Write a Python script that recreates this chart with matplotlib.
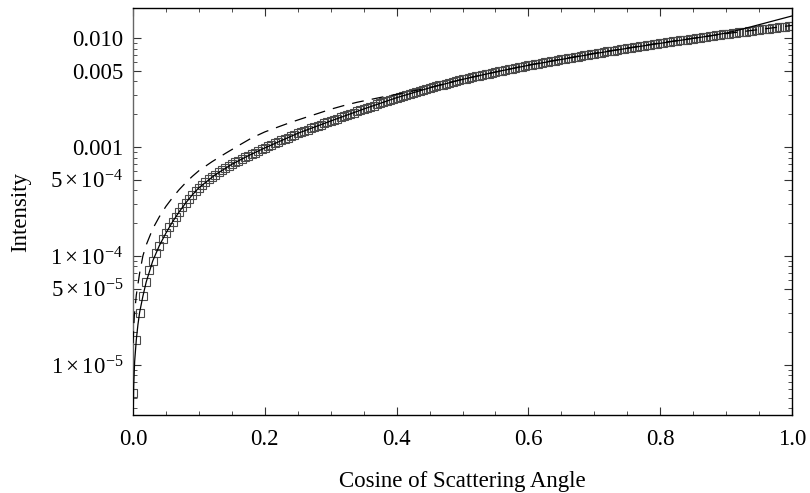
import numpy as np
import matplotlib
matplotlib.use('Agg')
import matplotlib.pyplot as plt
from matplotlib.ticker import FixedLocator, FixedFormatter, MultipleLocator, LogLocator, NullFormatter

plt.rcParams['font.family'] = ['Liberation Serif', 'DejaVu Serif']
plt.rcParams['mathtext.fontset'] = 'custom'
plt.rcParams['mathtext.rm'] = 'Liberation Serif'
plt.rcParams['mathtext.it'] = 'Liberation Serif:italic'

# simulated points, one every 0.005 in cosine (log10 of intensity)
mc_cos = np.linspace(0.0, 1.0, 201)
mc_log10 = [
    -5.26, -4.77, -4.52, -4.37, -4.24, -4.13, -4.045, -3.97, -3.905, -3.845,
    -3.79, -3.737, -3.687, -3.64, -3.596, -3.554, -3.514, -3.476, -3.44, -3.406,
    -3.374, -3.347, -3.322, -3.298, -3.276, -3.254, -3.234, -3.214, -3.195, -3.177,
    -3.159, -3.142, -3.126, -3.110, -3.095, -3.080, -3.065, -3.051, -3.037, -3.023,
    -3.009, -2.995, -2.981, -2.967, -2.954, -2.940, -2.927, -2.914, -2.901, -2.888,
    -2.875, -2.863, -2.852, -2.840, -2.829, -2.818, -2.806, -2.795, -2.784, -2.773,
    -2.762, -2.751, -2.740, -2.729, -2.718, -2.707, -2.696, -2.685, -2.674, -2.663,
    -2.652, -2.641, -2.631, -2.620, -2.610, -2.600, -2.589, -2.579, -2.569, -2.558,
    -2.548, -2.539, -2.530, -2.521, -2.512, -2.503, -2.494, -2.485, -2.476, -2.467,
    -2.458, -2.450, -2.442, -2.434, -2.427, -2.419, -2.411, -2.403, -2.395, -2.388,
    -2.380, -2.373, -2.366, -2.360, -2.353, -2.346, -2.339, -2.332, -2.326, -2.319,
    -2.312, -2.306, -2.300, -2.294, -2.288, -2.282, -2.275, -2.269, -2.263, -2.257,
    -2.251, -2.246, -2.240, -2.235, -2.229, -2.224, -2.219, -2.213, -2.208, -2.202,
    -2.197, -2.192, -2.186, -2.181, -2.176, -2.170, -2.165, -2.160, -2.155, -2.149,
    -2.144, -2.139, -2.134, -2.129, -2.124, -2.119, -2.115, -2.110, -2.105, -2.100,
    -2.095, -2.090, -2.086, -2.081, -2.077, -2.072, -2.067, -2.063, -2.058, -2.054,
    -2.049, -2.045, -2.040, -2.036, -2.031, -2.027, -2.023, -2.018, -2.014, -2.009,
    -2.005, -2.001, -1.997, -1.993, -1.989, -1.985, -1.980, -1.976, -1.972, -1.968,
    -1.964, -1.960, -1.956, -1.952, -1.948, -1.945, -1.941, -1.937, -1.933, -1.929,
    -1.925, -1.921, -1.918, -1.914, -1.910, -1.907, -1.903, -1.899, -1.895, -1.892,
    -1.888,
]

# solid curve
solid_cos = [0.0002, 0.0005, 0.001, 0.0025, 0.005, 0.0075, 0.01, 0.015, 0.02, 0.03,
             0.04, 0.05, 0.06, 0.07, 0.08, 0.09, 0.1, 0.125, 0.15, 0.175,
             0.2, 0.25, 0.3, 0.35, 0.4, 0.45, 0.5, 0.55, 0.6, 0.65,
             0.7, 0.75, 0.8, 0.85, 0.875, 0.9, 0.925, 0.95, 0.975, 1.0]
solid_log10 = [-5.8, -5.42, -5.2, -4.97, -4.77, -4.63, -4.52, -4.37, -4.24, -4.045,
               -3.905, -3.79, -3.687, -3.596, -3.514, -3.44, -3.374, -3.254, -3.159, -3.08,
               -3.009, -2.875, -2.762, -2.652, -2.548, -2.458, -2.38, -2.312, -2.251, -2.197,
               -2.144, -2.095, -2.049, -2.004, -1.981, -1.955, -1.918, -1.878, -1.838, -1.798]

# dashed curve
dash_cos = [0.0, 0.002, 0.005, 0.01, 0.015, 0.02, 0.03, 0.04, 0.05, 0.06,
            0.07, 0.08, 0.09, 0.1, 0.12, 0.14, 0.16, 0.18, 0.2, 0.22,
            0.24, 0.26, 0.28, 0.3, 0.32, 0.34, 0.36, 0.38, 0.4, 0.45,
            0.5, 0.6, 0.7, 0.8, 0.9, 1.0]
dash_log10 = [-4.8, -4.55, -4.36, -4.16, -4.0, -3.9, -3.75, -3.64, -3.545, -3.465,
              -3.392, -3.328, -3.27, -3.218, -3.135, -3.06, -2.988, -2.918, -2.862, -2.817,
              -2.773, -2.733, -2.694, -2.654, -2.62, -2.59, -2.565, -2.54, -2.517, -2.455,
              -2.378, -2.248, -2.14, -2.045, -1.96, -1.885]

ytick_vals = [1e-5, 5e-5, 1e-4, 5e-4, 1e-3, 5e-3, 1e-2]
ytick_labels = [r'$1\times10^{-5}$', r'$5\times10^{-5}$', r'$1\times10^{-4}$', r'$5\times10^{-4}$',
                '0.001', '0.005', '0.010']
xtick_vals = [0.0, 0.2, 0.4, 0.6, 0.8, 1.0]
xtick_labels = ['0.0', '0.2', '0.4', '0.6', '0.8', '1.0']

fig = plt.figure(figsize=(8.1, 4.93), dpi=100)
ax = fig.add_axes([133 / 810, 78 / 493, 659 / 810, 407 / 493])

ax.plot(mc_cos, 10 ** np.array(mc_log10), linestyle='none', marker='s', markersize=5.3,
        fillstyle='none', markeredgecolor='#4a4a4a', markeredgewidth=0.8, zorder=2)
ax.plot(solid_cos, 10 ** np.array(solid_log10), color='black', linewidth=0.9, zorder=3)
ax.plot(dash_cos, 10 ** np.array(dash_log10), color='black', linewidth=0.9,
        linestyle=(0, (9.5, 6.5)), zorder=3)

ax.set_yscale('log')
ax.set_xlim(0, 1)
ax.set_ylim(3.47e-6, 0.01884)

ax.yaxis.set_major_locator(FixedLocator(ytick_vals))
ax.yaxis.set_major_formatter(FixedFormatter(ytick_labels))
ax.yaxis.set_minor_locator(LogLocator(base=10, subs=np.arange(2, 10)))
ax.yaxis.set_minor_formatter(NullFormatter())
ax.xaxis.set_major_locator(FixedLocator(xtick_vals))
ax.xaxis.set_major_formatter(FixedFormatter(xtick_labels))
ax.xaxis.set_minor_locator(MultipleLocator(0.05))

ax.tick_params(which='both', direction='in', top=True, right=True, labelsize=16.5, color='#333333')
ax.tick_params(which='major', length=5.5, width=0.8)
ax.tick_params(which='minor', length=3, width=0.6)
ax.tick_params(axis='x', pad=10)
ax.tick_params(axis='y', pad=7)

for side in ['top', 'right', 'bottom']:
    ax.spines[side].set_color('black')
    ax.spines[side].set_linewidth(1.0)
ax.spines['left'].set_color('#666666')
ax.spines['left'].set_linewidth(1.0)

ax.set_xlabel('Cosine of Scattering Angle', fontsize=16.5, labelpad=15)
ax.set_ylabel('Intensity', fontsize=16.5)
ax.yaxis.set_label_coords(-0.155, 0.5)

fig.savefig('out.png', dpi=100)
